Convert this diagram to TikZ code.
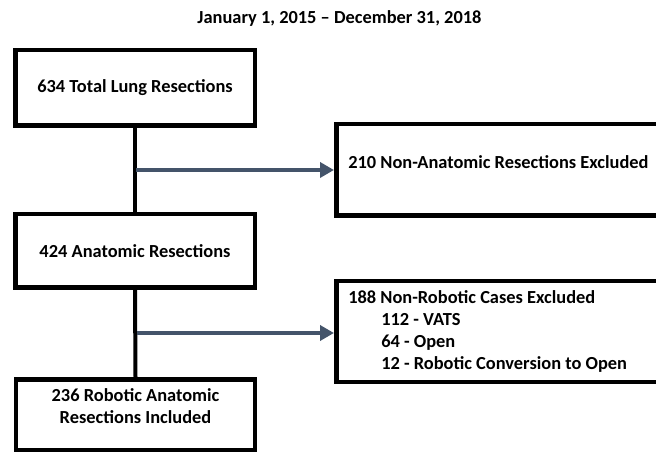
\documentclass[tikz,border=0pt]{standalone}
\usepackage{fontspec}
\setmainfont{Carlito}
\usetikzlibrary{arrows.meta}
\definecolor{arrowcol}{HTML}{44546A}
\tikzset{
  box/.style={draw=black, line width=4.5pt, fill=white, inner sep=0pt,
    font=\bfseries\fontsize{18.4}{22.3}\selectfont},
  vline/.style={draw=black, line width=4pt},
  arr/.style={draw=arrowcol, line width=4.5pt, -{Triangle[length=14pt,width=15pt]}},
  ttl/.style={font=\bfseries\fontsize{18.4}{20}\selectfont, inner sep=0pt}
}
\begin{document}
\begin{tikzpicture}[x=1pt,y=-1pt]
\useasboundingbox (0,0) rectangle (656,454);
\clip (0,0) rectangle (656,454);
\fill[white] (0,0) rectangle (656,454);

\node[ttl] (title) at (339.5,18) {January 1, 2015 – December 31, 2018};

\node[box, minimum width=239.5pt, minimum height=75.5pt] (b1) at (135,88) {634 Total Lung Resections};
\node[box, minimum width=239.5pt, minimum height=73.5pt] (b2) at (135,251) {424 Anatomic Resections};
\node[box, minimum width=239pt, minimum height=70.5pt, align=center] (b3) at (135.5,414.5)
  {236 Robotic Anatomic\\Resections Included\\[-6pt]\mbox{}};

\node[box, anchor=west, text width=400pt, inner xsep=12pt, minimum height=91.5pt, align=flush left] (r1) at (334,170)
  {210 Non-Anatomic Resections Excluded\\[-6pt]\mbox{}};
\node[box, anchor=west, text width=400pt, inner xsep=12pt, minimum height=100.5pt, align=flush left] (r2) at (334,331.5)
  {188 Non-Robotic Cases Excluded\\
   \hspace*{33pt}112 - VATS\\
   \hspace*{33pt}64 - Open\\
   \hspace*{33pt}12 - Robotic Conversion to Open};

\coordinate (j1) at (136,170);
\coordinate (j2) at (137,333);

\draw[vline] (b1.south) -- (b2.north);
\draw[vline] (b2.south) -- (b3.north);
\draw[arr] (j1) -- (r1.west |- j1);
\draw[arr] (j2) -- (r2.west |- j2);
\end{tikzpicture}
\end{document}
